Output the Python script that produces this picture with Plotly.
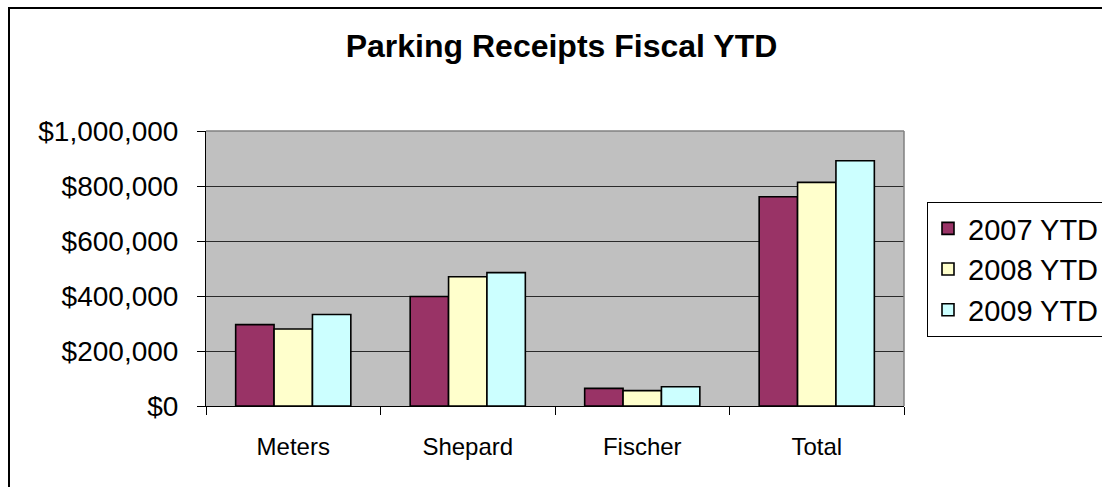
import plotly.graph_objects as go

categories = ["Meters", "Shepard", "Fischer", "Total"]
series_names = ["2007 YTD", "2008 YTD", "2009 YTD"]
values_2007 = [296000, 398000, 64000, 761000]
values_2008 = [280000, 470000, 56000, 813000]
values_2009 = [333000, 485000, 70000, 892000]
colors = ["#993366", "#FFFFCC", "#CCFFFF"]
y_ticks = [0, 200000, 400000, 600000, 800000, 1000000]
y_tick_labels = ["$" + format(v, ",d") for v in y_ticks]

W, H = 1102, 487
L, R, T, B = 206, 904, 131, 406  # plot area pixel bounds

fig = go.Figure()
for name, vals, col in zip(series_names, [values_2007, values_2008, values_2009], colors):
    fig.add_trace(go.Bar(
        x=categories, y=vals, name=name,
        marker=dict(color=col, line=dict(color="black", width=1.6)),
    ))

font = "Liberation Sans, Arial, sans-serif"

def px_x(px):
    return (px - L) / (R - L)

def px_y(py):
    return (B - py) / (B - T)

fig.update_layout(
    width=W, height=H, autosize=False,
    margin=dict(l=L, r=W - R, t=T, b=H - B, pad=0, autoexpand=False),
    paper_bgcolor="white",
    plot_bgcolor="#C0C0C0",
    barmode="group",
    bargap=0.34,
    bargroupgap=0,
    font=dict(family=font, color="black"),
    title=dict(
        text="<b>Parking Receipts Fiscal YTD</b>",
        font=dict(size=32, family=font, color="black"),
        x=561.5 / W, xanchor="center",
        y=1 - 46 / H, yanchor="middle",
        xref="container", yref="container",
    ),
    legend=dict(
        x=px_x(927), xanchor="left",
        y=px_y(202), yanchor="top",
        bordercolor="black", borderwidth=1,
        bgcolor="white",
        font=dict(size=29, family=font, color="black"),
        itemwidth=30,
        traceorder="normal",
    ),
    showlegend=True,
)

fig.update_xaxes(
    type="category",
    tickson="boundaries",
    ticks="outside", ticklen=8, tickcolor="black", tickwidth=1,
    showline=True, linecolor="black", linewidth=1,
    showgrid=False,
    tickfont=dict(size=24, family=font, color="black"),
    ticklabelstandoff=19,
)
fig.update_yaxes(
    range=[0, 1000000],
    tickvals=y_ticks,
    ticktext=y_tick_labels,
    ticks="outside", ticklen=8, tickcolor="black", tickwidth=1,
    showline=True, linecolor="black", linewidth=1,
    showgrid=True, gridcolor="#2a2a2a", gridwidth=1,
    zeroline=False,
    tickfont=dict(size=28, family=font, color="black"),
    ticklabelstandoff=13,
)

# plot area top/right border (gray)
fig.add_shape(type="line", xref="paper", yref="paper", x0=0, x1=1, y0=1, y1=1,
              line=dict(color="#808080", width=1.5))
fig.add_shape(type="line", xref="paper", yref="paper", x0=1, x1=1, y0=0, y1=1,
              line=dict(color="#808080", width=1.5))
# chart outer border
fig.add_shape(type="rect", xref="paper", yref="paper",
              x0=px_x(9), x1=px_x(1120), y0=px_y(8), y1=px_y(520),
              line=dict(color="black", width=2), layer="above")

fig.write_html("out.html", config={"displayModeBar": False},
               post_script="document.body.style.margin='0';document.body.style.overflow='hidden';")
